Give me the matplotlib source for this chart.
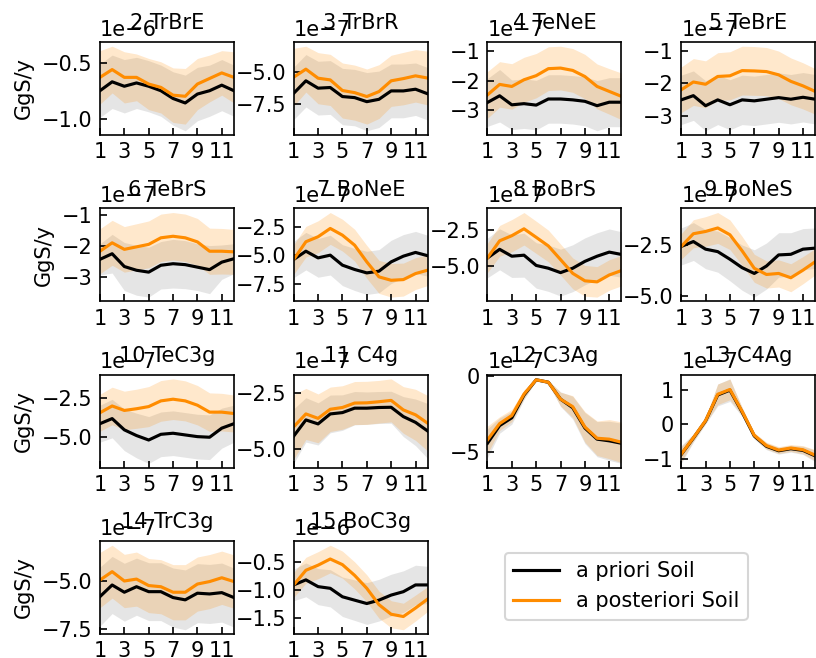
import matplotlib
matplotlib.use("Agg")
import matplotlib.pyplot as plt
import numpy as np

months = list(range(1, 13))
xtick_months = [1, 3, 5, 7, 9, 11]
titles = ["2 TrBrE", "3 TrBrR", "4 TeNeE", "5 TeBrE", "6 TeBrS", "7 BoNeE",
          "8 BoBrS", "9 BoNeS", "10 TeC3g", "11 C4g", "12 C3Ag", "13 C4Ag",
          "14 TrC3g", "15 BoC3g"]
scales = [1e-6, 1e-7, 1e-7, 1e-7, 1e-7, 1e-7, 1e-7, 1e-7, 1e-7, 1e-7,
          1e-7, 1e-7, 1e-7, 1e-6]
ylabel = "GgS/y"
legend_labels = ["a priori Soil", "a posteriori Soil"]

# values in units of the panel scale
p02_prior = [-0.75, -0.67, -0.71, -0.68, -0.71, -0.75, -0.82, -0.86, -0.78, -0.75, -0.70, -0.75]
p02_prior_sd = [0.24, 0.24, 0.24, 0.23, 0.23, 0.23, 0.24, 0.25, 0.24, 0.23, 0.23, 0.23]
p02_post = [-0.63, -0.56, -0.63, -0.63, -0.69, -0.72, -0.79, -0.80, -0.69, -0.64, -0.59, -0.63]
p02_post_sd = [0.24, 0.21, 0.23, 0.21, 0.23, 0.23, 0.245, 0.25, 0.23, 0.21, 0.20, 0.23]

p03_prior = [-6.66, -5.71, -6.27, -6.22, -6.91, -6.99, -7.30, -7.12, -6.48, -6.48, -6.35, -6.70]
p03_prior_sd = [2.0, 2.0, 2.05, 2.05, 2.15, 2.15, 2.22, 2.15, 2.05, 2.05, 2.0, 2.0]
p03_post = [-5.43, -4.82, -5.51, -5.64, -6.45, -6.61, -6.91, -6.53, -5.71, -5.54, -5.33, -5.50]
p03_post_sd = [2.2, 1.75, 1.95, 1.95, 2.1, 2.1, 2.1, 2.05, 1.95, 2.0, 2.0, 2.05]

p04_prior = [-2.75, -2.52, -2.83, -2.79, -2.84, -2.63, -2.63, -2.66, -2.71, -2.86, -2.74, -2.74]
p04_prior_sd = [0.82, 0.90, 0.85, 0.85, 0.85, 0.83, 0.83, 0.83, 0.84, 0.86, 0.84, 0.84]
p04_post = [-2.49, -2.13, -2.20, -1.97, -1.83, -1.59, -1.57, -1.65, -1.86, -2.20, -2.37, -2.54]
p04_post_sd = [0.80, 0.78, 0.78, 0.77, 0.76, 0.75, 0.75, 0.75, 0.76, 0.77, 0.78, 0.80]

p05_prior = [-2.51, -2.38, -2.69, -2.51, -2.66, -2.51, -2.54, -2.49, -2.44, -2.49, -2.43, -2.49]
p05_prior_sd = [0.76, 0.76, 0.77, 0.76, 0.77, 0.76, 0.76, 0.76, 0.76, 0.76, 0.76, 0.76]
p05_post = [-2.20, -1.96, -2.03, -1.79, -1.77, -1.61, -1.62, -1.64, -1.74, -1.94, -2.08, -2.25]
p05_post_sd = [0.70, 0.72, 0.72, 0.73, 0.74, 0.75, 0.75, 0.74, 0.73, 0.72, 0.71, 0.70]

p06_prior = [-2.42, -2.24, -2.65, -2.77, -2.83, -2.61, -2.56, -2.59, -2.67, -2.75, -2.51, -2.40]
p06_prior_sd = [0.50, 0.62, 0.77, 0.80, 0.80, 0.76, 0.78, 0.77, 0.75, 0.77, 0.55, 0.48]
p06_post = [-2.16, -1.89, -2.10, -2.02, -1.94, -1.73, -1.68, -1.73, -1.86, -2.16, -2.16, -2.18]
p06_post_sd = [0.72, 0.72, 0.73, 0.74, 0.75, 0.76, 0.76, 0.76, 0.75, 0.74, 0.73, 0.72]

p07_prior = [-5.38, -4.65, -5.24, -5.00, -5.88, -6.26, -6.56, -6.41, -5.59, -5.09, -4.76, -5.05]
p07_prior_sd = [1.6, 1.65, 1.7, 1.75, 1.8, 1.85, 1.9, 1.9, 1.9, 1.9, 1.85, 1.8]
p07_post = [-5.38, -3.82, -3.38, -2.65, -3.24, -4.12, -5.59, -6.91, -7.21, -7.15, -6.62, -6.32]
p07_post_sd = [1.3, 1.35, 1.4, 1.4, 1.4, 1.4, 1.45, 1.45, 1.48, 1.45, 1.4, 1.35]

p08_prior = [-4.42, -3.83, -4.30, -4.23, -4.93, -5.12, -5.42, -5.12, -4.65, -4.30, -4.02, -4.18]
p08_prior_sd = [1.35, 1.4, 1.45, 1.5, 1.55, 1.58, 1.6, 1.6, 1.6, 1.6, 1.58, 1.55]
p08_post = [-4.42, -3.25, -2.90, -2.43, -3.01, -3.60, -4.53, -5.47, -5.98, -6.05, -5.58, -5.28]
p08_post_sd = [1.0, 1.05, 1.1, 1.11, 1.1, 1.08, 1.06, 1.05, 1.05, 1.04, 1.04, 1.04]

p09_prior = [-2.58, -2.34, -2.71, -2.83, -3.20, -3.61, -3.89, -3.53, -2.99, -2.96, -2.71, -2.66]
p09_prior_sd = [0.90, 0.92, 0.95, 1.0, 1.05, 1.1, 1.15, 1.12, 1.08, 1.05, 1.0, 0.98]
p09_post = [-2.58, -1.96, -1.85, -1.68, -2.01, -2.79, -3.64, -3.94, -3.89, -4.10, -3.73, -3.32]
p09_post_sd = [0.62, 0.68, 0.72, 0.75, 0.72, 0.70, 0.68, 0.66, 0.66, 0.68, 0.66, 0.64]

p10_prior = [-4.16, -3.83, -4.56, -4.93, -5.22, -4.85, -4.78, -4.89, -5.00, -5.04, -4.45, -4.16]
p10_prior_sd = [1.2, 1.25, 1.35, 1.45, 1.52, 1.45, 1.45, 1.45, 1.45, 1.45, 1.3, 1.2]
p10_post = [-3.45, -3.01, -3.30, -3.19, -3.05, -2.68, -2.57, -2.68, -2.96, -3.41, -3.41, -3.50]
p10_post_sd = [1.2, 1.22, 1.25, 1.27, 1.3, 1.32, 1.32, 1.3, 1.28, 1.25, 1.22, 1.2]

p11_prior = [-4.44, -3.71, -3.89, -3.44, -3.38, -3.18, -3.18, -3.15, -3.14, -3.56, -3.82, -4.21]
p11_prior_sd = [1.23, 1.0, 0.95, 0.85, 0.80, 0.75, 0.73, 0.72, 0.72, 0.90, 1.05, 1.24]
p11_post = [-4.02, -3.44, -3.64, -3.23, -3.15, -2.95, -2.94, -2.89, -2.83, -3.26, -3.48, -3.86]
p11_post_sd = [1.45, 1.15, 1.1, 1.0, 0.98, 0.97, 0.97, 0.96, 0.97, 1.05, 1.15, 1.25]

p12_prior = [-4.40, -3.24, -2.73, -1.24, -0.24, -0.40, -1.51, -2.07, -3.40, -4.13, -4.24, -4.40]
p12_prior_sd = [0.95, 0.50, 0.42, 0.30, 0.06, 0.12, 0.48, 0.75, 1.02, 1.15, 1.28, 1.32]
p12_post = [-4.18, -3.11, -2.58, -1.18, -0.24, -0.40, -1.51, -2.00, -3.33, -4.07, -4.13, -4.33]
p12_post_sd = [0.90, 0.45, 0.40, 0.28, 0.05, 0.10, 0.45, 0.72, 1.0, 1.13, 1.28, 1.33]

p13_prior = [-0.88, -0.40, 0.10, 0.86, 1.00, 0.36, -0.34, -0.64, -0.77, -0.71, -0.76, -0.92]
p13_prior_sd = [0.26, 0.12, 0.09, 0.32, 0.33, 0.13, 0.09, 0.10, 0.10, 0.10, 0.12, 0.17]
p13_post = [-0.87, -0.39, 0.11, 0.88, 1.02, 0.38, -0.32, -0.62, -0.75, -0.69, -0.74, -0.90]
p13_post_sd = [0.22, 0.10, 0.08, 0.30, 0.30, 0.12, 0.08, 0.10, 0.10, 0.10, 0.12, 0.16]

p14_prior = [-5.82, -5.21, -5.59, -5.30, -5.56, -5.56, -5.87, -5.99, -5.64, -5.68, -5.61, -5.87]
p14_prior_sd = [1.55, 1.5, 1.52, 1.5, 1.52, 1.52, 1.55, 1.57, 1.55, 1.55, 1.55, 1.55]
p14_post = [-4.95, -4.51, -5.00, -4.90, -5.24, -5.30, -5.59, -5.59, -5.16, -5.03, -4.83, -5.03]
p14_post_sd = [1.45, 1.39, 1.4, 1.42, 1.42, 1.42, 1.45, 1.45, 1.42, 1.42, 1.4, 1.4]

p15_prior = [-0.91, -0.82, -0.94, -0.97, -1.12, -1.18, -1.24, -1.18, -1.09, -1.03, -0.91, -0.91]
p15_prior_sd = [0.28, 0.30, 0.32, 0.33, 0.35, 0.36, 0.37, 0.37, 0.37, 0.37, 0.35, 0.33]
p15_post = [-0.91, -0.65, -0.56, -0.45, -0.55, -0.74, -0.97, -1.26, -1.43, -1.47, -1.32, -1.16]
p15_post_sd = [0.22, 0.23, 0.24, 0.245, 0.24, 0.24, 0.24, 0.24, 0.24, 0.235, 0.23, 0.22]

panels = [
    (p02_prior, p02_prior_sd, p02_post, p02_post_sd),
    (p03_prior, p03_prior_sd, p03_post, p03_post_sd),
    (p04_prior, p04_prior_sd, p04_post, p04_post_sd),
    (p05_prior, p05_prior_sd, p05_post, p05_post_sd),
    (p06_prior, p06_prior_sd, p06_post, p06_post_sd),
    (p07_prior, p07_prior_sd, p07_post, p07_post_sd),
    (p08_prior, p08_prior_sd, p08_post, p08_post_sd),
    (p09_prior, p09_prior_sd, p09_post, p09_post_sd),
    (p10_prior, p10_prior_sd, p10_post, p10_post_sd),
    (p11_prior, p11_prior_sd, p11_post, p11_post_sd),
    (p12_prior, p12_prior_sd, p12_post, p12_post_sd),
    (p13_prior, p13_prior_sd, p13_post, p13_post_sd),
    (p14_prior, p14_prior_sd, p14_post, p14_post_sd),
    (p15_prior, p15_prior_sd, p15_post, p15_post_sd),
]

fig, axes = plt.subplots(4, 4, figsize=(5.44, 658 / 150), dpi=150)
fig.subplots_adjust(left=0.1225, right=0.999, bottom=0.0365, top=0.9362,
                    wspace=0.446, hspace=0.788)
axes = axes.ravel()
axes[14].remove()
axes[15].remove()

x = np.array(months)
handles = None
for i, (title, sc, (pr, prsd, po, posd)) in enumerate(zip(titles, scales, panels)):
    ax = axes[i]
    pr = np.array(pr) * sc
    prsd = np.array(prsd) * sc
    po = np.array(po) * sc
    posd = np.array(posd) * sc
    ax.fill_between(x, pr - prsd, pr + prsd, color="gray", alpha=0.2, linewidth=0)
    ax.fill_between(x, po - posd, po + posd, color="darkorange", alpha=0.2, linewidth=0)
    l1, = ax.plot(x, pr, color="black", lw=1.5, label=legend_labels[0])
    l2, = ax.plot(x, po, color="darkorange", lw=1.5, label=legend_labels[1])
    handles = [l1, l2]
    ax.set_xlim(1, 12)
    ax.set_xticks(xtick_months)
    ax.tick_params(direction="in", top=False, right=False)
    ax.set_title(title, y=1.0, fontsize=10)
    if i % 4 == 0:
        ax.set_ylabel(ylabel)

fig.legend(handles, legend_labels, loc="upper left",
           bbox_to_anchor=(0.619, 0.160), borderaxespad=0, handlelength=2.2)

fig.savefig("out.png", dpi=150)
